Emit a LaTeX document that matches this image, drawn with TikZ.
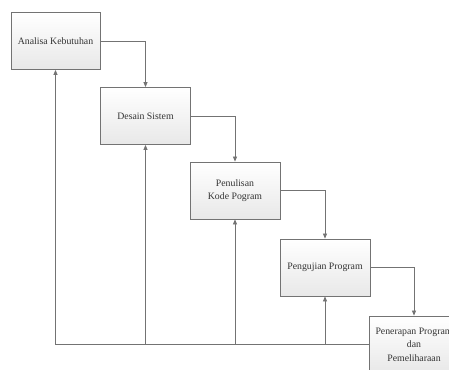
\documentclass[tikz,border=0pt]{standalone}
\usepackage{fontspec}
\setmainfont{Liberation Serif}
\usetikzlibrary{arrows.meta}
\definecolor{linec}{RGB}{115,115,115}
\tikzset{
  stage/.style={draw=linec, line width=0.8pt, top color=white, bottom color=black!9,
    minimum width=90pt, minimum height=57pt, inner sep=1pt, align=center,
    font=\fontsize{9.8}{13.5}\selectfont, text=black!80},
  flow/.style={draw=linec, line width=0.7pt, -{Triangle[length=5pt,width=4pt]}},
  back/.style={draw=linec, line width=0.7pt}
}
\begin{document}
\begin{tikzpicture}[x=1pt,y=-1pt]
\useasboundingbox (0,0) rectangle (449,369);
\clip (0,0) rectangle (449,369);
\node[stage, minimum width=89pt] (a) at (55.5,41) {Analisa Kebutuhan};
\node[stage] (b) at (145.5,116) {Desain Sistem};
\node[stage] (c) at (235,190.5) {Penulisan\\Kode Pogram};
\node[stage] (d) at (325,267.5) {Pengujian Program};
\node[stage] (e) at (414,344.5) {Penerapan Program\\dan\\Pemeliharaan};
\draw[flow] (a.east) -| (b.north);
\draw[flow] (b.east) -| (c.north);
\draw[flow] (c.east) -| (d.north);
\draw[flow] (d.east) -| (e.north);
\coordinate (fa) at (a.south |- e.west);
\coordinate (fb) at (b.south |- e.west);
\coordinate (fc) at (c.south |- e.west);
\coordinate (fd) at (d.south |- e.west);
\draw[back] (e.west) -- (fa);
\draw[flow] (fa) -- (a.south);
\draw[flow] (fb) -- (b.south);
\draw[flow] (fc) -- (c.south);
\draw[flow] (fd) -- (d.south);
\end{tikzpicture}
\end{document}
